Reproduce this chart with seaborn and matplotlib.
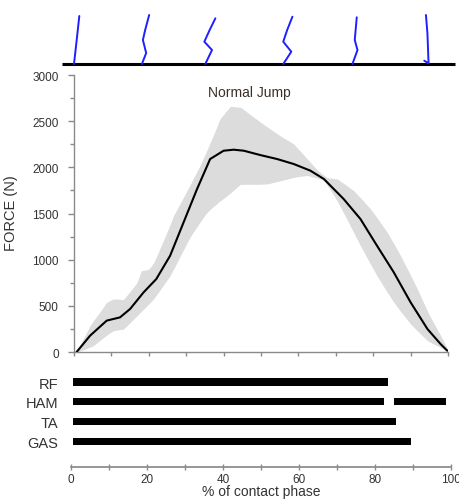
import numpy as np
import pandas as pd
import matplotlib
matplotlib.use("Agg")
import matplotlib.pyplot as plt
import seaborn as sns

# ---------------- data ----------------
mean_x = [0.7, 4.3, 8.75, 12.3, 15, 18.6, 22, 25.7, 29.3, 32.9, 36.4, 40, 42.7, 45.4, 49.8,
          54.3, 58.75, 63.2, 66.8, 72.1, 76.6, 81, 85.5, 90, 94.5, 98, 99.8]
mean_force = [0, 177, 340, 375, 466, 646, 790, 1043, 1404, 1765, 2090, 2180, 2191, 2180, 2133,
              2090, 2036, 1964, 1874, 1657, 1440, 1152, 863, 538, 249, 87, 14]

upper_x = [0.7, 4.3, 8.75, 10.5, 13.2, 15.9, 18, 20.4, 23, 26.6, 31, 35.5, 39, 41.8, 44.5,
           49.8, 54.3, 58.75, 62.3, 66.8, 70.4, 74.8, 79.3, 83.75, 87.3, 91.8, 95.4, 98, 99.8]
upper_force = [0, 285, 538, 574, 567, 646, 880, 899, 1079, 1476, 1801, 2162, 2523, 2660, 2650,
               2487, 2361, 2253, 2090, 1892, 1874, 1747, 1549, 1296, 1043, 682, 357, 177, 32]

lower_x = [0.7, 5.2, 9.6, 11.4, 13.2, 16.8, 21.25, 25.7, 30.2, 33.75, 37.3, 40.9, 44.5, 47.1,
           51.6, 55, 60.5, 65, 67.7, 72.1, 76.6, 81, 85.5, 90, 94.5, 98, 99.8]
lower_force = [0, 69, 213, 249, 249, 393, 574, 827, 1188, 1440, 1585, 1693, 1819, 1819,
               1819, 1855, 1910, 1917, 1837, 1512, 1152, 827, 538, 303, 123, 51, 14]

muscles = ["RF", "HAM", "TA", "GAS"]
# EMG activity bursts (% of contact phase): (muscle, start, end)
burst_muscle = ["RF", "HAM", "HAM", "TA", "GAS"]
burst_start = [0.6, 0.6, 85.0, 0.6, 0.6]
burst_end = [83.4, 82.4, 98.6, 85.5, 89.4]

# stick figure sketches: phase position (%) and height above ground
stick_x = [
    [0.0, 0.72, 1.42],
    [18.15, 19.3, 18.42, 19.03, 20.1],
    [35.1, 36.9, 34.85, 36.27, 37.8],
    [55.95, 58.1, 55.95, 57.0, 58.4],
    [74.45, 75.8, 75.07, 75.6],
    [93.65, 94.8, 94.5, 94.1],
]
stick_h = [
    [0, 24, 48],
    [0, 11, 24, 34, 49],
    [0, 14, 22.3, 34, 45.7],
    [0, 12.3, 22.3, 34, 47.3],
    [0, 14, 24, 46.7],
    [3.3, 0.7, 30.7, 49],
]

# ---------------- figure ----------------
sns.set_theme(style="white")
plt.rcParams["font.family"] = ["Liberation Sans", "DejaVu Sans"]

W, H = 460, 502
fig = plt.figure(figsize=(W / 100, H / 100), dpi=100)

def px_axes(x0, y0, x1, y1):
    return fig.add_axes([x0 / W, 1 - y1 / H, (x1 - x0) / W, (y1 - y0) / H])

spine_c = "#8a8a8a"
txt_c = "#333333"

# ---- main force plot ----
ax = px_axes(74, 76, 448, 353)
ax.fill_between(upper_x, np.interp(upper_x, lower_x, lower_force), upper_force,
                color="#dcdcdc", lw=0, zorder=1)
ax.fill_between(lower_x, lower_force, np.interp(lower_x, upper_x, upper_force),
                color="#dcdcdc", lw=0, zorder=1)
df = pd.DataFrame({"x": mean_x, "force": mean_force})
sns.lineplot(data=df, x="x", y="force", ax=ax, color="black", lw=1.5, zorder=3)
ax.set_xlim(0, 100)
ax.set_ylim(0, 3000)
ax.set_yticks(np.arange(0, 3001, 500))
ax.set_yticks(np.arange(250, 3000, 500), minor=True)
ax.set_xticks(np.arange(0, 101, 10))
ax.set_xticklabels([])
for s in ["top", "right"]:
    ax.spines[s].set_visible(False)
for s in ["left", "bottom"]:
    ax.spines[s].set_color(spine_c)
    ax.spines[s].set_linewidth(1.0)
ax.tick_params(axis="y", which="major", direction="out", length=4, width=1, color=spine_c,
               labelsize=8.5, labelcolor=txt_c, pad=7, left=True)
ax.tick_params(axis="y", which="minor", direction="out", length=3, width=1, color=spine_c, left=True)
ax.tick_params(axis="x", which="major", direction="out", length=3, width=1, color=spine_c, bottom=True)
ax.set_xlabel("")
ax.set_ylabel("FORCE (N)", fontsize=10.5, color=txt_c)
ax.yaxis.set_label_coords(-0.15, 0.505)
ax.text(0.468, 0.939, "Normal Jump", transform=ax.transAxes, ha="center", va="center",
        fontsize=10, color="#3b3028")

# ---- stick figures ----
axt = px_axes(74, 0, 448, 65)
axt.set_xlim(0, 100)
axt.set_ylim(0, 65)
axt.axis("off")
axt.plot([-3.2, 101.9], [0, 0], color="black", lw=2.2, clip_on=False, solid_capstyle="butt")
for xs, hs in zip(stick_x, stick_h):
    axt.plot(xs, hs, color="#1f1fff", lw=1.4, clip_on=False)

# ---- EMG bars ----
axb = px_axes(71, 370, 451, 468)
ypos = {m: i for i, m in enumerate(muscles)}
for m, s0, s1 in zip(burst_muscle, burst_start, burst_end):
    axb.barh(ypos[m], s1 - s0, left=s0, height=0.36, color="black", lw=0)
axb.set_xlim(0, 100)
axb.set_ylim(4.31, -0.66)
axb.set_yticks(range(len(muscles)))
axb.set_yticklabels(muscles)
axb.set_xticks(np.arange(0, 101, 20))
axb.set_xticks(np.arange(10, 100, 20), minor=True)
for s in ["top", "right", "left"]:
    axb.spines[s].set_visible(False)
axb.spines["bottom"].set_color(spine_c)
axb.tick_params(axis="y", length=0, labelsize=10.5, labelcolor=txt_c, pad=9)
axb.tick_params(axis="x", which="both", direction="inout", length=4, width=1, color=spine_c,
                labelsize=8.5, labelcolor=txt_c, pad=2, bottom=True)
fig.text(261 / W, 1 - 492 / H, "% of contact phase", ha="center", va="center",
         fontsize=10, color=txt_c)

fig.savefig("out.png", dpi=100)
